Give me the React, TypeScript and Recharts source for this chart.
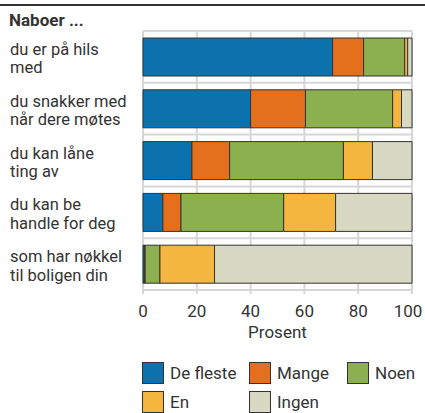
import { BarChart, Bar, XAxis, YAxis, CartesianGrid } from 'recharts';

const categories = [
  ['du er på hils', 'med'],
  ['du snakker med', 'når dere møtes'],
  ['du kan låne', 'ting av'],
  ['du kan be', 'handle for deg'],
  ['som har nøkkel', 'til boligen din'],
];
const deFleste = [70.5, 40.0, 18.2, 7.4, 0.5];
const mange = [11.5, 20.4, 14.0, 6.7, 0.3];
const noen = [15.3, 32.4, 42.3, 38.2, 5.5];
const en = [1.1, 3.3, 10.8, 19.3, 20.3];
const ingen = [1.6, 3.9, 14.7, 28.4, 73.4];
const xTicks = [0, 20, 40, 60, 80, 100];

const seriesNames = ['De fleste', 'Mange', 'Noen', 'En', 'Ingen'];
const seriesKeys = ['deFleste', 'mange', 'noen', 'en', 'ingen'];
const colors = ['#0b72ae', '#e4701e', '#8cb050', '#f4b63f', '#d8d9c2'];

const data = categories.map((lines, i) => ({
  label: lines.join(' '),
  deFleste: deFleste[i],
  mange: mange[i],
  noen: noen[i],
  en: en[i],
  ingen: ingen[i],
}));

const font = 'Roboto, sans-serif';
const textColor = '#333';

function CategoryTick(props: any) {
  const { y, index } = props;
  const lines = categories[index] ?? [];
  return (
    <g>
      {lines.map((line, i) => (
        <text
          key={i}
          x={10}
          y={y - 2 + i * 18.5}
          textAnchor="start"
          fontSize={16.5}
          fill={textColor}
          fontFamily={font}
        >
          {line}
        </text>
      ))}
    </g>
  );
}

// the last label is nudged left so it stays inside the picture
function PercentTick(props: any) {
  const { x, y, payload } = props;
  const shift = payload.value === 100 ? -4 : 0;
  return (
    <text x={x + shift} y={y} dy="0.71em" textAnchor="middle" fontSize={17} fill={textColor} fontFamily={font}>
      {payload.value}
    </text>
  );
}

export default function App() {
  return (
    <div style={{ position: 'absolute', left: 0, top: 0, width: 425, height: 413, fontFamily: font, color: textColor }}>
      <div style={{ position: 'absolute', left: 0, top: 4, width: 425, height: 2, background: '#333' }} />
      <div style={{ position: 'absolute', left: 9, top: 10, fontSize: 17, fontWeight: 700 }}>Naboer ...</div>
      <BarChart
        width={425}
        height={413}
        data={data}
        layout="vertical"
        margin={{ top: 31, right: 13, bottom: 73, left: 0 }}
        barCategoryGap={7}
      >
        <CartesianGrid
          stroke="#d6d6d6"
          strokeWidth={2}
          horizontalCoordinatesGenerator={({ offset }: any) =>
            categories
              .map((_, i) => offset.top + (i * offset.height) / categories.length)
              .concat(offset.top + offset.height)
          }
        />
        <XAxis
          type="number"
          domain={[0, 100]}
          ticks={xTicks}
          axisLine={false}
          tickLine={{ stroke: '#d6d6d6', strokeWidth: 2 }}
          tickSize={4}
          tickMargin={11}
          height={50}
          tick={<PercentTick />}
          label={{ value: 'Prosent', position: 'insideBottom', offset: 2, fontSize: 17, fill: textColor, fontFamily: font }}
        />
        <YAxis
          type="category"
          dataKey="label"
          width={143}
          axisLine={false}
          tickLine={false}
          tick={<CategoryTick />}
        />
        {seriesKeys.map((k, i) => (
          <Bar
            key={k}
            dataKey={k}
            name={seriesNames[i]}
            stackId="a"
            fill={colors[i]}
            stroke="#333"
            strokeWidth={1}
            isAnimationActive={false}
          />
        ))}
      </BarChart>
      <div
        style={{
          position: 'absolute',
          left: 142,
          top: 362,
          width: 290,
          display: 'flex',
          flexWrap: 'wrap',
          rowGap: 7,
          fontSize: 17,
        }}
      >
        {seriesNames.map((name, i) => (
          <div key={name} style={{ display: 'flex', alignItems: 'center', width: i % 3 === 2 ? 70 : i % 3 === 0 ? 107 : 98 }}>
            <span
              style={{
                display: 'inline-block',
                width: 20,
                height: 20,
                background: colors[i],
                border: '1px solid #333',
                marginRight: 6,
              }}
            />
            {name}
          </div>
        ))}
      </div>
    </div>
  );
}
